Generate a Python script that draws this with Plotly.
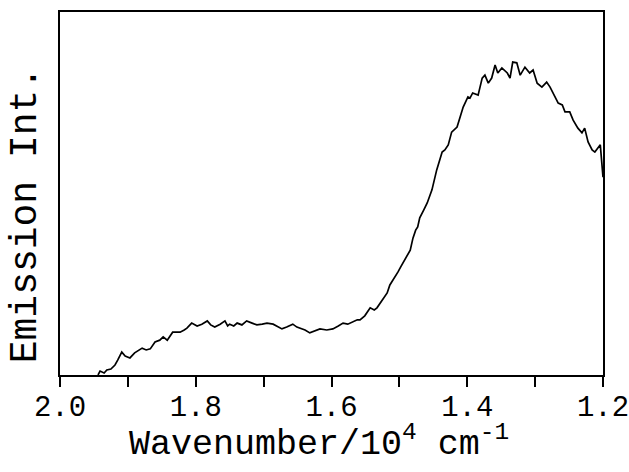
import plotly.graph_objects as go

# Wavenumber (10^4 cm^-1) and emission intensity (arb. units)
wavenumber = [
    1.944, 1.941, 1.935, 1.931, 1.925, 1.919, 1.915, 1.909, 1.904, 1.897,
    1.890, 1.879, 1.873, 1.867, 1.860, 1.853, 1.848, 1.842, 1.834, 1.823,
    1.817, 1.813, 1.806, 1.798, 1.791, 1.783, 1.778, 1.772, 1.764, 1.757,
    1.753, 1.750, 1.744, 1.739, 1.732, 1.725, 1.717, 1.710, 1.702, 1.695,
    1.686, 1.680, 1.673, 1.666, 1.657, 1.651, 1.646, 1.639, 1.632, 1.624,
    1.617, 1.607, 1.598, 1.590, 1.583, 1.576, 1.570, 1.562, 1.558, 1.551,
    1.543, 1.537, 1.533, 1.526, 1.518, 1.514, 1.509, 1.502, 1.498, 1.492,
    1.489, 1.484, 1.480, 1.476, 1.473, 1.470, 1.464, 1.459, 1.452, 1.445,
    1.437, 1.433, 1.428, 1.423, 1.415, 1.411, 1.406, 1.399, 1.396, 1.392,
    1.384, 1.378, 1.374, 1.369, 1.364, 1.359, 1.355, 1.349, 1.341, 1.337,
    1.333, 1.327, 1.322, 1.315, 1.308, 1.303, 1.297, 1.290, 1.283, 1.278,
    1.274, 1.266, 1.260, 1.256, 1.249, 1.244, 1.237, 1.231, 1.227, 1.222,
    1.216, 1.212, 1.204, 1.202, 1.200,
]
intensity = [
    0.0, 1.1, 0.55, 1.4, 1.65, 2.75, 4.1, 6.3, 5.2, 4.7,
    6.1, 7.4, 6.9, 7.2, 9.1, 9.6, 10.5, 9.6, 11.8, 11.8,
    12.4, 12.9, 14.3, 13.5, 14.0, 14.9, 13.8, 13.2, 14.0, 14.9,
    13.5, 14.0, 13.5, 14.3, 13.8, 14.9, 14.3, 13.8, 14.0, 14.3,
    14.0, 13.5, 12.7, 13.2, 14.0, 13.2, 12.9, 12.4, 11.6, 12.1,
    12.7, 12.4, 12.7, 13.5, 14.3, 14.0, 14.6, 15.2, 15.2, 16.3,
    18.5, 17.9, 18.5, 20.4, 22.6, 24.8, 26.2, 28.4, 29.8, 31.7,
    32.8, 34.4, 37.7, 39.9, 40.8, 43.3, 45.5, 47.4, 51.0, 56.5,
    61.4, 62.0, 63.4, 66.9, 68.3, 70.8, 73.8, 76.6, 76.3, 77.7,
    77.1, 81.8, 82.6, 80.4, 81.8, 85.4, 83.2, 84.6, 83.2, 81.8,
    86.2, 86.0, 82.6, 84.8, 83.2, 84.0, 80.4, 79.3, 80.7, 79.3,
    77.7, 74.9, 74.4, 72.5, 72.5, 70.2, 68.0, 66.7, 68.0, 64.2,
    62.0, 61.4, 63.4, 59.2, 54.5,
]

tick_vals = [2.0, 1.8, 1.6, 1.4, 1.2]
tick_text = ["2.0", "1.8", "1.6", "1.4", "1.2"]

FONT = "Liberation Mono"

fig = go.Figure()
fig.add_trace(go.Scatter(
    x=wavenumber, y=intensity, mode="lines",
    line=dict(color="black", width=1.7),
    showlegend=False,
))

fig.update_layout(
    width=629, height=472,
    margin=dict(l=60, r=26, t=12, b=97, autoexpand=False),
    paper_bgcolor="white", plot_bgcolor="white",
    font=dict(family=FONT, color="black"),
    xaxis=dict(
        range=[2.0, 1.2], autorange=False, automargin=False,
        tickmode="array", tickvals=tick_vals, ticktext=tick_text,
        ticks="outside", ticklen=10, tickwidth=1.5, tickcolor="black",
        minor=dict(tick0=1.2, dtick=0.1, ticks="outside", ticklen=10,
                   tickwidth=1.5, tickcolor="black", showgrid=False),
        ticklabeloverflow="allow", ticklabelstandoff=-6,
        showline=True, linecolor="black", linewidth=1.5, mirror=True,
        showgrid=False, zeroline=False,
        tickfont=dict(family=FONT, size=29, color="black"),
    ),
    yaxis=dict(
        range=[0, 100], autorange=False, automargin=False,
        showticklabels=False, ticks="",
        showline=True, linecolor="black", linewidth=1.5, mirror=True,
        showgrid=False, zeroline=False,
    ),
    annotations=[
        dict(
            text="Wavenumber/10<sup>4</sup> cm<sup>-1</sup>",
            xref="paper", yref="paper", x=0.477, y=-0.185,
            xanchor="center", yanchor="middle", showarrow=False,
            font=dict(family=FONT, size=35, color="black"),
        ),
        dict(
            text="Emission Int.",
            xref="paper", yref="paper", x=-0.0645, y=0.44,
            xanchor="center", yanchor="middle", showarrow=False,
            textangle=-90,
            font=dict(family=FONT, size=38, color="black"),
        ),
    ],
)

fig.write_html("out.html")
